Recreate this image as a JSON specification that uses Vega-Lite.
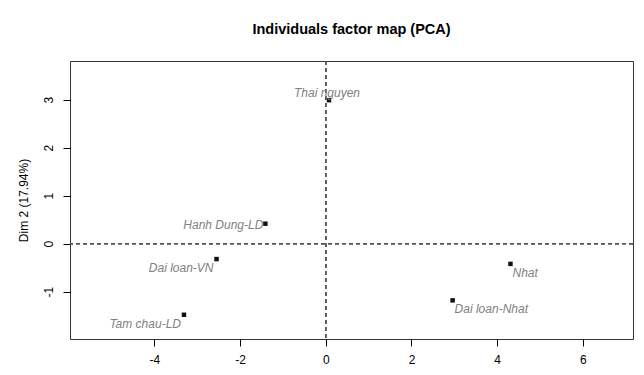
{
  "$schema": "https://vega.github.io/schema/vega-lite/v6.json",
  "autosize": "none",
  "width": 563,
  "height": 278,
  "padding": {"left": 70, "top": 61, "right": 12, "bottom": 36},
  "background": "white",
  "title": {
    "text": "Individuals factor map (PCA)",
    "font": "Liberation Sans",
    "fontSize": 14.5,
    "fontWeight": "bold",
    "color": "#000000",
    "anchor": "middle",
    "frame": "group",
    "baseline": "alphabetic",
    "offset": 12
  },
  "config": {
    "view": {"stroke": "#333333", "strokeWidth": 1},
    "font": "Liberation Sans"
  },
  "data": {
    "values": [
      {"name": "Thai nguyen", "dim1": 0.075, "dim2": 2.99},
      {"name": "Hanh Dung-LD", "dim1": -1.41, "dim2": 0.417},
      {"name": "Dai loan-VN", "dim1": -2.55, "dim2": -0.32},
      {"name": "Tam chau-LD", "dim1": -3.31, "dim2": -1.48},
      {"name": "Nhat", "dim1": 4.31, "dim2": -0.42},
      {"name": "Dai loan-Nhat", "dim1": 2.96, "dim2": -1.18}
    ]
  },
  "encoding": {
    "x": {
      "field": "dim1",
      "type": "quantitative",
      "scale": {"domain": [-5.97, 7.17], "nice": false, "zero": false},
      "axis": {
        "values": [-4, -2, 0, 2, 4, 6],
        "labelExpr": "datum.value + ''",
        "title": null,
        "grid": false,
        "domain": false,
        "tickColor": "#000000",
        "tickSize": 7,
        "labelFont": "Liberation Sans",
        "labelFontSize": 12,
        "labelColor": "#000000",
        "labelPadding": 8
      }
    },
    "y": {
      "field": "dim2",
      "type": "quantitative",
      "scale": {"domain": [-1.985, 3.806], "nice": false, "zero": false},
      "axis": {
        "values": [-1, 0, 1, 2, 3],
        "labelExpr": "datum.value + ''",
        "title": "Dim 2 (17.94%)",
        "titleFont": "Liberation Sans",
        "titleFontSize": 12,
        "titleFontWeight": "normal",
        "titleColor": "#000000",
        "titlePadding": 12,
        "grid": false,
        "domain": false,
        "tickColor": "#000000",
        "tickSize": 7,
        "labelAngle": -90,
        "labelAlign": "center",
        "labelBaseline": "bottom",
        "labelFont": "Liberation Sans",
        "labelFontSize": 12,
        "labelColor": "#000000",
        "labelPadding": 8
      }
    }
  },
  "layer": [
    {
      "mark": {"type": "rule", "strokeDash": [4, 3], "color": "#555555", "strokeWidth": 1},
      "encoding": {"x": {"datum": 0}, "y": null}
    },
    {
      "mark": {"type": "rule", "strokeDash": [4, 3], "color": "#555555", "strokeWidth": 1},
      "encoding": {"y": {"datum": 0}, "x": null}
    },
    {
      "mark": {"type": "point", "shape": "square", "filled": true, "size": 20, "color": "#111111", "opacity": 1}
    },
    {
      "transform": [{"filter": {"field": "name", "oneOf": ["Thai nguyen"]}}],
      "mark": {"type": "text", "align": "center", "baseline": "middle", "dx": -2, "dy": -7, "fontStyle": "italic", "fontSize": 12, "color": "#808080", "font": "Liberation Sans"},
      "encoding": {"text": {"field": "name"}}
    },
    {
      "transform": [{"filter": {"field": "name", "oneOf": ["Hanh Dung-LD"]}}],
      "mark": {"type": "text", "align": "right", "baseline": "middle", "dx": -2, "dy": 1, "fontStyle": "italic", "fontSize": 12, "color": "#808080", "font": "Liberation Sans"},
      "encoding": {"text": {"field": "name"}}
    },
    {
      "transform": [{"filter": {"field": "name", "oneOf": ["Dai loan-VN", "Tam chau-LD"]}}],
      "mark": {"type": "text", "align": "right", "baseline": "middle", "dx": -3, "dy": 9, "fontStyle": "italic", "fontSize": 12, "color": "#808080", "font": "Liberation Sans"},
      "encoding": {"text": {"field": "name"}}
    },
    {
      "transform": [{"filter": {"field": "name", "oneOf": ["Nhat", "Dai loan-Nhat"]}}],
      "mark": {"type": "text", "align": "left", "baseline": "middle", "dx": 2, "dy": 9, "fontStyle": "italic", "fontSize": 12, "color": "#808080", "font": "Liberation Sans"},
      "encoding": {"text": {"field": "name"}}
    }
  ]
}
